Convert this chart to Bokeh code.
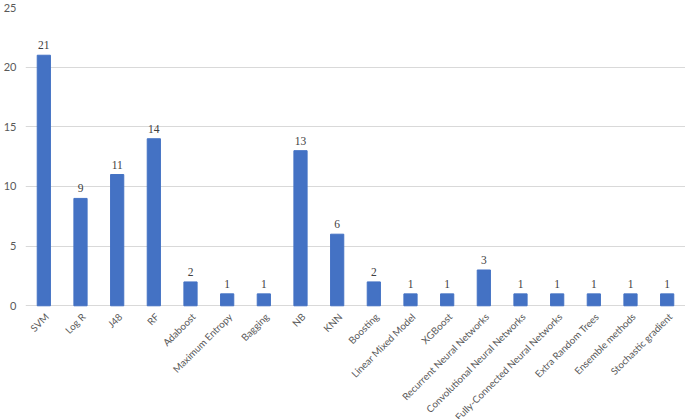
import math
from bokeh.plotting import figure
from bokeh.models import ColumnDataSource, FixedTicker, LabelSet
from bokeh.core.properties import value
from bokeh.embed import file_html
from bokeh.resources import INLINE

categories = ["SVM", "Log R", "J48", "RF", "Adaboost", "Maximum Entropy", "Bagging", "NB", "KNN",
              "Boosting", "Linear Mixed Model", "XGBoost", "Recurrent Neural Networks",
              "Convolutional Neural Networks", "Fully-Connected Neural Networks",
              "Extra Random Trees", "Ensemble methods", "Stochastic gradient"]
counts = [21, 9, 11, 14, 2, 1, 1, 13, 6, 2, 1, 1, 3, 1, 1, 1, 1, 1]
y_ticks = [0, 5, 10, 15, 20, 25]

src = ColumnDataSource(dict(cat=categories, val=counts, lab=[str(v) for v in counts],
                            zero=[0] * len(counts)))

p = figure(x_range=categories, y_range=(-9.53, 25), width=685, height=419,
           output_backend="svg", toolbar_location=None,
           min_border_left=0, min_border_right=0, min_border_top=7, min_border_bottom=0)
p.x_range.range_padding = 0
p.vbar(x="cat", top="val", bottom=0, width=0.36, source=src, color="#4472C4")

labels = LabelSet(x="cat", y="val", text="lab", source=src, text_align="center",
                  text_baseline="bottom", y_offset=6, text_font="Lato",
                  text_font_size="11.5px", text_color="#404040")
p.add_layout(labels)

p.text(x="cat", y="zero", text="cat", source=src, angle=math.pi / 4,
       text_align="right", text_baseline="middle", x_offset=3, y_offset=9,
       text_font=value("Lato"), text_font_size="9.8px", text_color="#595959")

p.outline_line_color = None
p.xgrid.grid_line_color = None
p.ygrid.grid_line_color = "#d9d9d9"
p.ygrid.grid_line_width = 1
p.yaxis.ticker = FixedTicker(ticks=y_ticks)
p.yaxis.axis_line_color = None
p.yaxis.major_tick_line_color = None
p.yaxis.minor_tick_line_color = None
p.yaxis.major_label_text_font = "Lato"
p.yaxis.major_label_text_font_size = "11px"
p.yaxis.major_label_text_color = "#595959"
p.yaxis.major_label_standoff = 3

p.xaxis.visible = False

open("out.html", "w").write(file_html(p, INLINE))
